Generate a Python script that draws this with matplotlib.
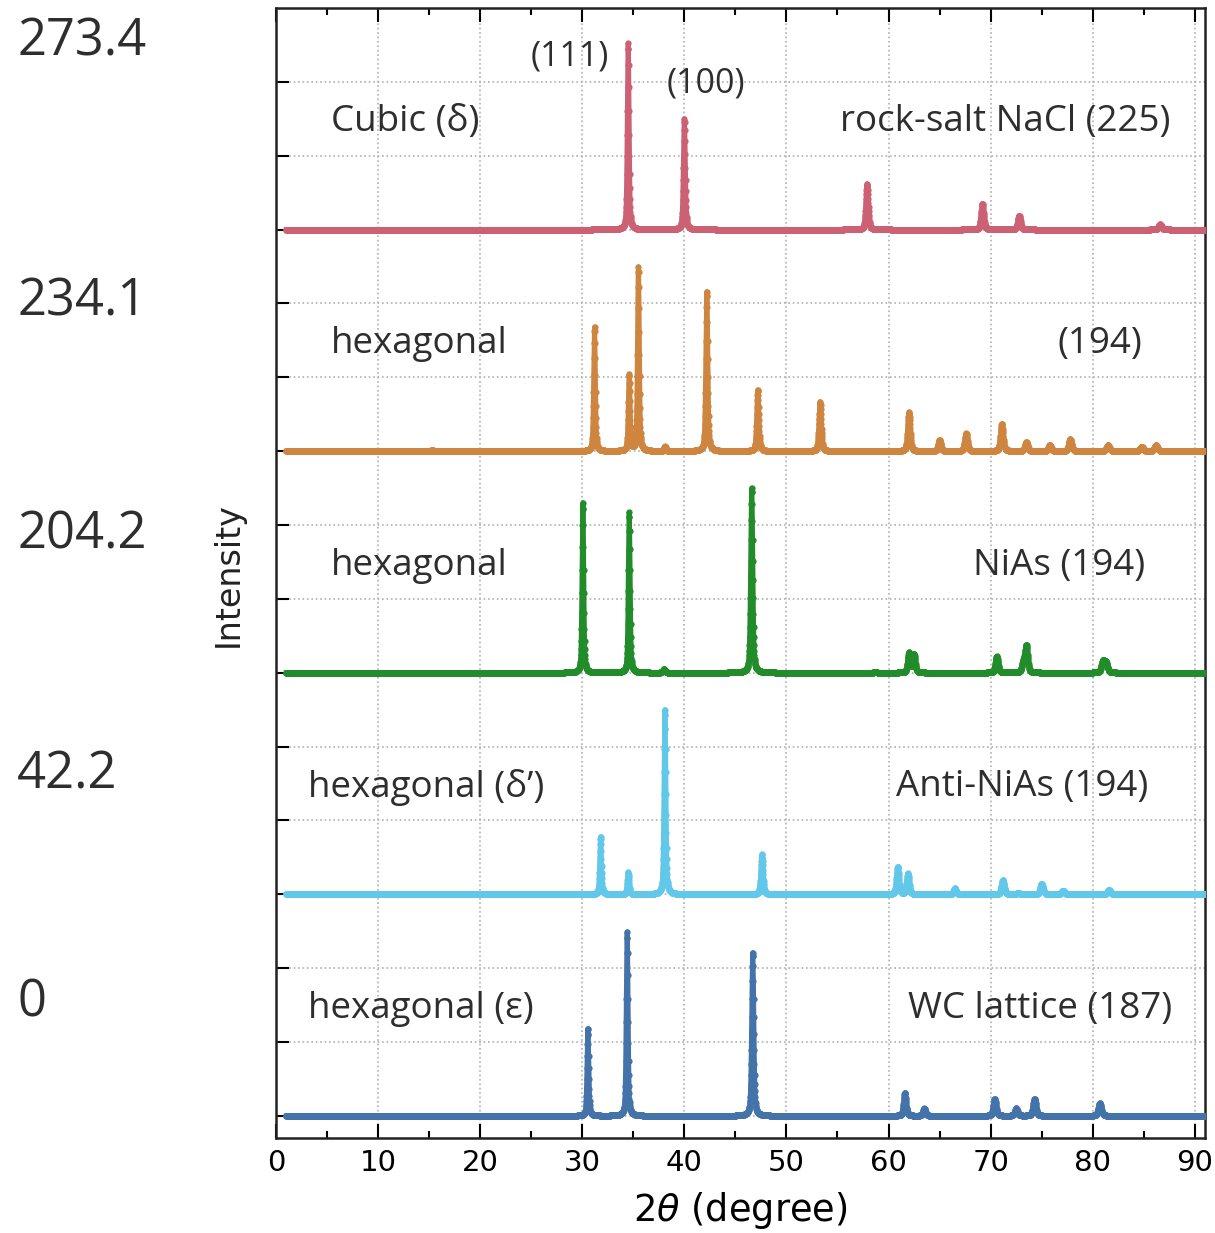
import numpy as np
import matplotlib.pyplot as plt
from matplotlib.ticker import MultipleLocator

# reflection positions (2theta) and heights for each structure
nacl_pos = [34.5, 40.0, 57.9, 69.2, 72.8, 86.6]
nacl_int = [2.52, 1.50, 0.62, 0.35, 0.19, 0.07]

hex_pos = [15.3, 31.2, 34.6, 35.5, 38.1, 42.2, 47.2, 53.3, 62.0, 65.0, 67.6,
           71.1, 73.5, 75.8, 77.8, 81.5, 84.8, 86.2]
hex_int = [0.02, 1.68, 1.03, 2.49, 0.06, 2.16, 0.83, 0.67, 0.53, 0.15, 0.24,
           0.37, 0.12, 0.08, 0.16, 0.08, 0.06, 0.08]

nias_pos = [30.06, 34.6, 38.0, 46.6, 58.7, 62.0, 62.5, 70.6, 73.2, 73.5, 81.0, 81.3]
nias_int = [2.30, 2.17, 0.05, 2.50, 0.01, 0.27, 0.25, 0.22, 0.12, 0.36, 0.15, 0.13]

anti_pos = [31.8, 34.5, 38.1, 47.6, 60.9, 61.9, 66.5, 71.2, 72.7, 75.0, 77.1, 81.6]
anti_int = [0.78, 0.30, 2.50, 0.54, 0.37, 0.28, 0.08, 0.19, 0.02, 0.14, 0.05, 0.06]

wc_pos = [30.55, 34.4, 46.7, 61.6, 63.5, 70.4, 72.5, 74.3, 80.7]
wc_int = [1.19, 2.49, 2.21, 0.31, 0.10, 0.23, 0.10, 0.23, 0.17]

offsets = [12, 9, 6, 3, 0]
colors = ['#CD6174', '#CD853F', '#228B2A', '#62C8EA', '#4473AA']
left_labels = ['Cubic (δ)', 'hexagonal', 'hexagonal', "hexagonal (δ’)", 'hexagonal (ε)']
left_x = [5.4, 5.4, 5.4, 3.1, 3.1]
right_labels = ['rock-salt NaCl (225)', '(194)', 'NiAs (194)', 'Anti-NiAs (194)', 'WC lattice (187)']
right_x = [87.6, 84.9, 85.1, 85.4, 87.8]
pressures = ['273.4', '234.1', '204.2', '42.2', '0']
pressure_y = [42, 302, 535, 775, 1003]

peaks = [(nacl_pos, nacl_int), (hex_pos, hex_int), (nias_pos, nias_int),
         (anti_pos, anti_int), (wc_pos, wc_int)]

tt = np.arange(1.0, 92.0, 0.02)


def pattern(pos, hgt):
    # pseudo-Voigt profile, slightly broader at high angle
    y = np.zeros_like(tt)
    for p, h in zip(pos, hgt):
        w = 0.10 + 0.003 * p
        d = (tt - p) / w
        y += h * (0.6 * np.exp(-4 * np.log(2) * d**2) + 0.4 / (1 + 4 * d**2))
    return y


fig = plt.figure(figsize=(12.15, 12.33), dpi=100)
ax = fig.add_axes([276 / 1215, 1 - 1138 / 1233, 929 / 1215, 1130 / 1233])

for (pos, hgt), off, c in zip(peaks, offsets, colors):
    ax.plot(tt, pattern(pos, hgt) + off, color=c, lw=3.6, marker='o', ms=4.5, mew=0, zorder=3)

txt = dict(family='Open Sans', color='#2e2e2e', fontsize=26.5, va='center')
for off, l, lx, r, rx in zip(offsets, left_labels, left_x, right_labels, right_x):
    ax.text(lx, off + 1.45, l, ha='left', **txt)
    ax.text(rx, off + 1.45, r, ha='right', **txt)

ax.text(28.8, 14.35, '(111)', family='Open Sans', color='#2e2e2e', fontsize=24.5, ha='center', va='center')
ax.text(42.1, 13.98, '(100)', family='Open Sans', color='#2e2e2e', fontsize=24.5, ha='center', va='center')

ax.set_xlim(0, 91)
ax.set_ylim(-0.3, 15.0)
ax.xaxis.set_major_locator(MultipleLocator(10))
ax.xaxis.set_minor_locator(MultipleLocator(5))
ax.set_yticks(np.arange(0, 15))
ax.tick_params(axis='x', which='both', direction='in', top=True, bottom=True,
               labelsize=21, pad=8, width=1.5)
ax.tick_params(axis='x', which='major', length=10)
ax.tick_params(axis='x', which='minor', length=5)
ax.tick_params(axis='y', direction='in', left=True, right=False, labelleft=False,
               length=9, width=1.5)
ax.grid(True, which='major', ls=':', color='#b0b0b0', lw=1.2)
for s in ax.spines.values():
    s.set_linewidth(1.8)
    s.set_color('#222222')

ax.set_xlabel(r'2$\theta$ (degree)', fontsize=26.5, labelpad=9)

fig.text(228 / 1215, 1 - 575 / 1233, 'Intensity', rotation=90, fontsize=24,
         ha='center', va='center', color='#222222')

for p, py in zip(pressures, pressure_y):
    fig.text(17 / 1215, 1 - py / 1233, p, family='Open Sans', fontsize=36.5,
             color='#2e2e2e', ha='left', va='center')

fig.savefig('out.png', dpi=100)
